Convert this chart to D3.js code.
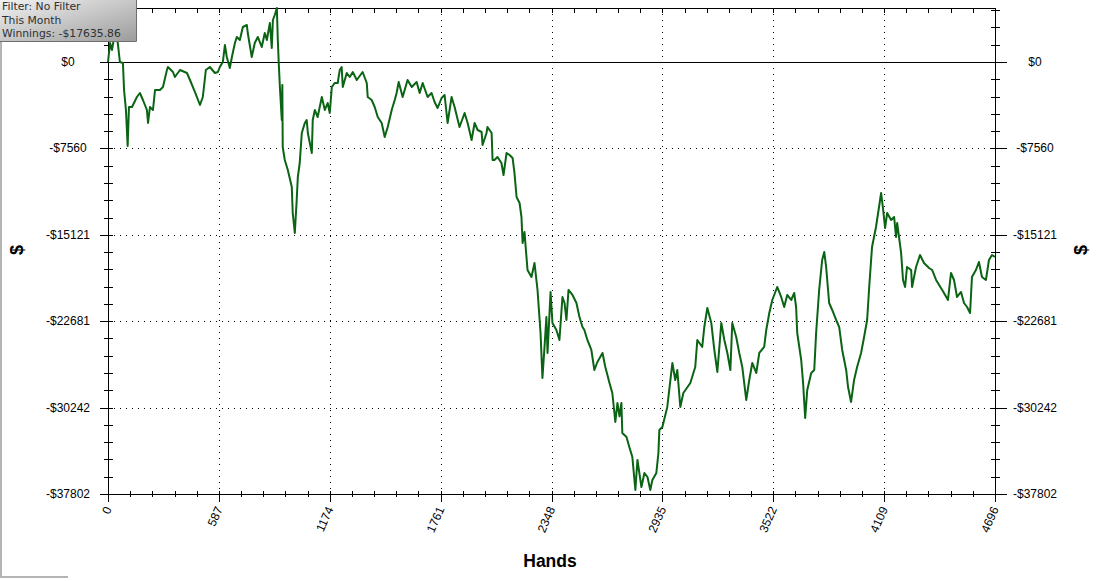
<!DOCTYPE html>
<html>
<head>
<meta charset="utf-8">
<script src="https://cdn.jsdelivr.net/npm/d3@7/dist/d3.min.js"></script>
<style>
  html, body { margin: 0; padding: 0; background: #fff; }
  svg { display: block; }
</style>
</head>
<body>
<svg id="chart" width="1098" height="581"></svg>
<script>
// ---- data ----
const hands = [
  0,11,21,32,42,53,63,79,85,95,104,111,127,153,169,185,206,212,222,238,249,275,291,312,317,344,354,381,418,434,460,487,502,518,539,566,582,592,608,619,629,645,656,672,682,698,714,735,740,761,777,793,814,830,841,857,867,873,883,894,899,904,910,920,923,925,936,952,973,978,989,999,1005,1015,1026,1042,1052,1058,1079,1084,1095,1110,1132,1148,1163,1174,1185,1200,1216,1227,1237,1243,1264,
  1280,1296,1317,1348,1370,1375,1396,1412,1428,1449,1465,1481,1502,1518,1528,1539,1560,1586,1608,1634,1650,1666,1692,1713,1729,1745,1766,1782,1798,1819,1835,1861,1888,1904,1925,1941,1957,1978,
  1983,2004,2009,2031,2036,2046,2062,2083,2094,2110,2126,2142,2152,2163,2179,2189,2195,2205,2221,2242,2258,2274,2290,2300,2311,2321,2327,2343,2353,2374,2390,2406,2417,2427,2438,2459,2480,2496,2512,2522,2538,2559,2575,2591,2618,2633,2655,2670,2686,2697,2708,2718,2723,2745,2760,2776,2792,2803,2824,2840,2856,2871,2882,2903,2914,2919,
  2935,2961,2988,3003,3014,3030,3046,3083,3109,3120,3146,3157,3173,3194,3210,3226,3247,3263,3279,3295,3305,3326,3342,3358,3379,3395,3411,3432,3448,3474,3485,3501,3517,3543,3564,3580,3596,3617,3633,3643,3649,3670,3680,3691,3702,3723,3739,3749,3765,3781,3792,3802,3818,3834,3855,3871,3887,3908,3918,3934,3950,3966,3987,4003,4019,4030,4045,4066,4082,4093,4104,4114,4125,4146,4162,4172,4178,4199,4209,4220,4230,4252,4257,4278,4299,4320,4347,4363,4384,4410,4426,4447,4463,4479,4495,4516,4532,4548,4564,4574,4595,4611,4627,4648,4664,4680,4696
];
const winnings = [
  0,1663,1050,2100,2800,1488,0,-88,-2450,-4200,-7350,-3938,-3938,-3063,-2713,-3325,-4200,-5338,-3938,-4200,-2450,-2450,-2188,-700,-438,-875,-1313,-700,-963,-1575,-2625,-3763,-3063,-700,-438,-963,-875,-438,0,1488,438,-525,438,1663,2188,1925,3063,3238,2538,438,1663,2188,1313,2538,1925,3413,1225,3675,4113,4725,1925,-88,-2188,-5075,-2013,-7438,-8575,-9450,-10938,-13213,-14963,-12075,-10063,-8838,-6213,-5338,-5075,-6213,-7963,-5075,-4200,-4813,-3063,-4200,-3588,-4463,-2188,-1838,-1838,-700,-438,-2188,-963,
  -1313,-875,-1575,-875,-1838,-3063,-3325,-3938,-4813,-5338,-6563,-5688,-4200,-3325,-2713,-1750,-3063,-1575,-2188,-1750,-2713,-1838,-3063,-2713,-3500,-4025,-3150,-2888,-5338,-3063,-3938,-5688,-4463,-5338,-6825,-5338,-5950,-6125,
  -7263,-6213,-5688,-6213,-8575,-8575,-8313,-8838,-9888,-7963,-8138,-8400,-9713,-11813,-12338,-13563,-15838,-14875,-18200,-18813,-17588,-19950,-23713,-27650,-24938,-22313,-25463,-20125,-22838,-23450,-24325,-20563,-21088,-22575,-19950,-20388,-21088,-22313,-23188,-23450,-24325,-25200,-26950,-26250,-25463,-26688,-28088,-28963,-31500,-29838,-31000,-29838,-32463,-32813,-33688,-34563,-37450,-34825,-37188,-35963,-36313,-37450,-36575,-35963,-34213,-32200,
  -31938,-30188,-26338,-27825,-26950,-30188,-28963,-28088,-26688,-24325,-24938,-23188,-21525,-22838,-25200,-27125,-22838,-24325,-25463,-26950,-22838,-24063,-25463,-26688,-29575,-27825,-26338,-27213,-25463,-24938,-23450,-21963,-20825,-19688,-20563,-21438,-20388,-20825,-20213,-21438,-23713,-26075,-28088,-31150,-28700,-27213,-26950,-23713,-19950,-17325,-16625,-17938,-21088,-21700,-22575,-23188,-25200,-26950,-28438,-29750,-27825,-26688,-25463,-24063,-22575,-19688,-16188,-14438,-12688,-11463,-12950,-14525,-13213,-13825,-13563,-15313,-14088,-16713,-19075,-19688,-17938,-18200,-19688,-17938,-16888,-17588,-18025,-18200,-19075,-19775,-20213,-20825,-18463,-19075,-20563,-20125,-21088,-21438,-21963,-18813,-18200,-17500,-18813,-19075,-17325,-16888,-17063
];
const xTickValues = [0, 587, 1174, 1761, 2348, 2935, 3522, 4109, 4696];
const yTickValues = [0, -7560, -15121, -22681, -30242, -37802];
const yTickLabels = ["$0", "-$7560", "-$15121", "-$22681", "-$30242", "-$37802"];
const infoLines = ["Filter: No Filter", "This Month", "Winnings: -$17635.86"];
const xTitle = "Hands";
const yTitle = "$";

// ---- layout ----
const L = 108, R = 995, T = 8, B = 494;
const svg = d3.select("#chart");
const x = d3.scaleLinear().domain([0, 4696]).range([L, R]);
const y = d3.scaleLinear().domain([-37802, 4725]).range([B, T]);
const font = "'Liberation Sans', Arial, sans-serif";

svg.append("rect").attr("width", 1098).attr("height", 581).attr("fill", "#fff");

// grid
const grid = svg.append("g").attr("stroke", "#000").attr("stroke-width", 1).attr("stroke-dasharray", "1,5");
grid.selectAll("line.h").data(yTickValues.filter(v => v !== 0 && v !== -37802)).join("line")
  .attr("x1", L).attr("x2", R).attr("y1", d => Math.round(y(d)) + 0.5).attr("y2", d => Math.round(y(d)) + 0.5);
grid.selectAll("line.v").data(xTickValues.filter(v => v !== 0 && v !== 4696)).join("line")
  .attr("y1", T).attr("y2", B).attr("x1", d => Math.round(x(d)) + 0.5).attr("x2", d => Math.round(x(d)) + 0.5);

// minor tick values
const yStep = 7560.4 / 5;
const yMinor = d3.range(-25, 4).map(i => i * yStep).filter(v => y(v) >= T - 0.5 && y(v) <= B + 0.5);
const xStep = 587 / 5;
const xMinor = d3.range(0, 41).map(i => i * xStep);

const ax = svg.append("g").attr("stroke", "#000").attr("stroke-width", 1).attr("shape-rendering", "crispEdges");
// frame lines
ax.append("line").attr("x1", L).attr("x2", L).attr("y1", T).attr("y2", B);
ax.append("line").attr("x1", R).attr("x2", R).attr("y1", T).attr("y2", B);
ax.append("line").attr("x1", L).attr("x2", R).attr("y1", T).attr("y2", T);
ax.append("line").attr("x1", 100).attr("x2", 1007).attr("y1", B).attr("y2", B);
// zero line
ax.append("line").attr("x1", 100).attr("x2", 1007).attr("y1", Math.round(y(0))).attr("y2", Math.round(y(0)));

// y minor ticks both sides
yMinor.forEach(v => {
  const yy = Math.round(y(v));
  ax.append("line").attr("x1", L - 4).attr("x2", L + 5).attr("y1", yy).attr("y2", yy);
  ax.append("line").attr("x1", R - 4).attr("x2", R + 5).attr("y1", yy).attr("y2", yy);
});
yTickValues.forEach(v => {
  const yy = Math.round(y(v));
  ax.append("line").attr("x1", L - 8).attr("x2", L + 5).attr("y1", yy).attr("y2", yy);
  ax.append("line").attr("x1", R - 4).attr("x2", R + 12).attr("y1", yy).attr("y2", yy);
});
// x minor ticks
xMinor.forEach(v => {
  const xx = Math.round(x(v));
  ax.append("line").attr("x1", xx).attr("x2", xx).attr("y1", B - 3).attr("y2", B + 3);
  ax.append("line").attr("x1", xx).attr("x2", xx).attr("y1", T).attr("y2", T + 5);
});
xTickValues.forEach(v => {
  const xx = Math.round(x(v));
  ax.append("line").attr("x1", xx).attr("x2", xx).attr("y1", B - 3).attr("y2", B + 8);
});

// y labels
const lab = svg.append("g").attr("font-family", font).attr("font-size", 12).attr("fill", "#000");
yTickValues.forEach((v, i) => {
  lab.append("text").attr("x", 68).attr("y", y(v) + 4).attr("text-anchor", "middle").text(yTickLabels[i]);
  lab.append("text").attr("x", 1035).attr("y", y(v) + 4).attr("text-anchor", "middle").text(yTickLabels[i]);
});
// x labels rotated
xTickValues.forEach(v => {
  lab.append("text")
    .attr("transform", `translate(${x(v) + 4},${509}) rotate(-66)`)
    .attr("text-anchor", "end").text(String(v));
});

// titles
svg.append("text").attr("x", 550).attr("y", 567).attr("text-anchor", "middle")
  .attr("font-family", font).attr("font-weight", "bold").attr("font-size", 17.5).text(xTitle);
[17, 1081].forEach(cx => {
  svg.append("text").attr("transform", `translate(${cx + 6},250) rotate(-90)`).attr("text-anchor", "middle")
    .attr("font-family", font).attr("font-weight", "bold").attr("font-size", 18).text(yTitle);
});

// data line
const pts = hands.map((h, i) => [h, winnings[i]]);
svg.append("path").datum(pts)
  .attr("fill", "none").attr("stroke", "#0b6414").attr("stroke-width", 2).attr("stroke-linejoin", "round")
  .attr("d", d3.line().x(d => x(d[0])).y(d => y(d[1])));

// window frame remnants
svg.append("path").attr("d", "M1,41 L1,577 L68,577").attr("fill", "none").attr("stroke", "#b4b4b4").attr("stroke-width", 2);

// info box
const defs = svg.append("defs");
const gr = defs.append("linearGradient").attr("id", "boxg").attr("x1", "0").attr("y1", "0").attr("x2", "1").attr("y2", "1");
gr.append("stop").attr("offset", "0%").attr("stop-color", "#f2f2f2");
gr.append("stop").attr("offset", "100%").attr("stop-color", "#9c9c9c");
svg.append("rect").attr("x", 0).attr("y", 0).attr("width", 136).attr("height", 41).attr("fill", "url(#boxg)");
svg.append("path").attr("d", "M136.5,0 L136.5,41.5 L0,41.5").attr("fill", "none").attr("stroke", "#6e6e6e").attr("stroke-width", 1);
infoLines.forEach((t, i) => {
  svg.append("text").attr("x", 2).attr("y", 10 + i * 13.5)
    .attr("font-family", "'DejaVu Sans', Verdana, sans-serif").attr("font-size", 10.8).attr("fill", "#303030").text(t);
});
</script>
</body>
</html>
